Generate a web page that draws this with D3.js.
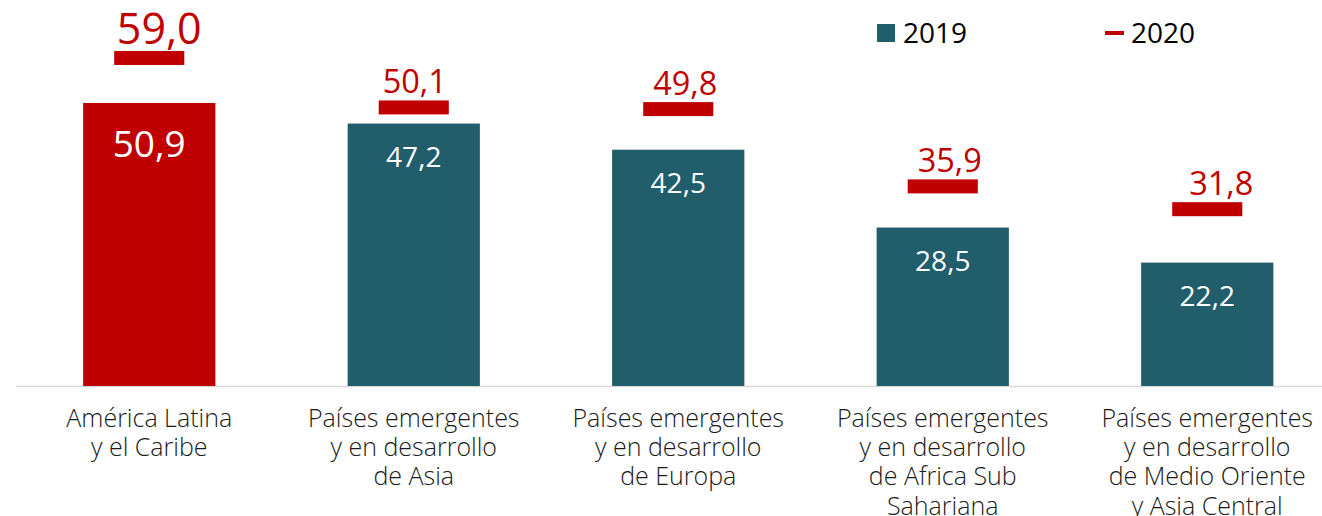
<!DOCTYPE html>
<html>
<head>
<meta charset="utf-8">
<script src="https://cdn.jsdelivr.net/npm/d3@7"></script>
<style>
  body { margin: 0; background: #fff; }
  svg { display: block; font-family: 'Open Sans', sans-serif; }
</style>
</head>
<body>
<div id="chart"></div>
<script>
// data
const categories = [
  ['América Latina', 'y el Caribe'],
  ['Países emergentes', 'y en desarrollo', 'de Asia'],
  ['Países emergentes', 'y en desarrollo', 'de Europa'],
  ['Países emergentes', 'y en desarrollo', 'de Africa Sub', 'Sahariana'],
  ['Países emergentes', 'y en desarrollo', 'de Medio Oriente', 'y Asia Central']
];
const values2019 = [50.9, 47.2, 42.5, 28.5, 22.2];
const values2020 = [59.0, 50.1, 49.8, 35.9, 31.8];
const seriesNames = ['2019', '2020'];

// small hand nudges of the 2020 labels, like in the original
const labelShift2020 = [10, 1, 7, 7, 14];

const svgWidth = 1322;
const svgHeight = 516;
const baseY = 386;

const teal = '#225d6b';
const red = '#c00000';

const svg = d3.select('#chart')
  .append('svg')
  .attr('width', svgWidth)
  .attr('height', svgHeight);

const fmt = v => d3.format('.1f')(v).replace('.', ',');

const xScale = d3.scaleBand()
  .domain(d3.range(categories.length))
  .range([17, 1339.5])
  .paddingInner(0.5)
  .paddingOuter(0.25);

const yScale = d3.scaleLinear()
  .domain([0, 70])
  .range([baseY, baseY - 5.56 * 70]);

const bw = xScale.bandwidth();

// baseline
svg.append('line')
  .attr('x1', 16).attr('x2', svgWidth)
  .attr('y1', baseY + 0.5).attr('y2', baseY + 0.5)
  .attr('stroke', '#d9d9d9')
  .attr('stroke-width', 1.6);

// 2019 bars
svg.selectAll('rect.bar')
  .data(values2019)
  .enter()
  .append('rect')
  .attr('class', 'bar')
  .attr('x', (d, i) => xScale(i))
  .attr('y', d => yScale(d))
  .attr('width', bw)
  .attr('height', d => baseY - yScale(d))
  .attr('fill', (d, i) => i === 0 ? red : teal);

// 2019 value labels
svg.selectAll('text.v19')
  .data(values2019)
  .enter()
  .append('text')
  .attr('class', 'v19')
  .attr('x', (d, i) => xScale(i) + bw / 2)
  .attr('y', (d, i) => yScale(d) + (i === 0 ? 54 : 43))
  .attr('text-anchor', 'middle')
  .attr('fill', '#fff')
  .style('font-size', (d, i) => i === 0 ? '37px' : '28px')
  .text(d => fmt(d));

// 2020 markers
const markW = bw * 0.53;
const markH = 14;
svg.selectAll('rect.mark')
  .data(values2020)
  .enter()
  .append('rect')
  .attr('class', 'mark')
  .attr('x', (d, i) => xScale(i) + bw / 2 - markW / 2)
  .attr('y', d => yScale(d) - markH / 2)
  .attr('width', markW)
  .attr('height', markH)
  .attr('fill', red);

svg.selectAll('text.v20')
  .data(values2020)
  .enter()
  .append('text')
  .attr('class', 'v20')
  .attr('x', (d, i) => xScale(i) + bw / 2 + labelShift2020[i])
  .attr('y', d => yScale(d) - markH / 2 - 7)
  .attr('text-anchor', 'middle')
  .attr('fill', red)
  .style('font-size', (d, i) => i === 0 ? '43px' : '32.5px')
  .text(d => fmt(d));

// category labels
const catGroup = svg.selectAll('text.cat')
  .data(categories)
  .enter()
  .append('text')
  .attr('class', 'cat')
  .attr('text-anchor', 'middle')
  .attr('fill', '#1a1a1a')
  .style('font-size', '25px')
  .style('font-weight', 300);

catGroup.selectAll('tspan')
  .data((d, i) => d.map(line => ({ line, i })))
  .enter()
  .append('tspan')
  .attr('x', d => xScale(d.i) + bw / 2)
  .attr('y', (d, j) => 427 + j * 29.2)
  .text(d => d.line);

// legend
const legend = svg.append('g');
legend.append('rect')
  .attr('x', 877).attr('y', 24)
  .attr('width', 18).attr('height', 18)
  .attr('fill', teal);
legend.append('text')
  .attr('x', 903).attr('y', 43)
  .style('font-size', '28px')
  .attr('fill', '#000')
  .text(seriesNames[0]);
legend.append('rect')
  .attr('x', 1105).attr('y', 31)
  .attr('width', 19).attr('height', 4)
  .attr('fill', red);
legend.append('text')
  .attr('x', 1131).attr('y', 43)
  .style('font-size', '28px')
  .attr('fill', '#000')
  .text(seriesNames[1]);
</script>
</body>
</html>
